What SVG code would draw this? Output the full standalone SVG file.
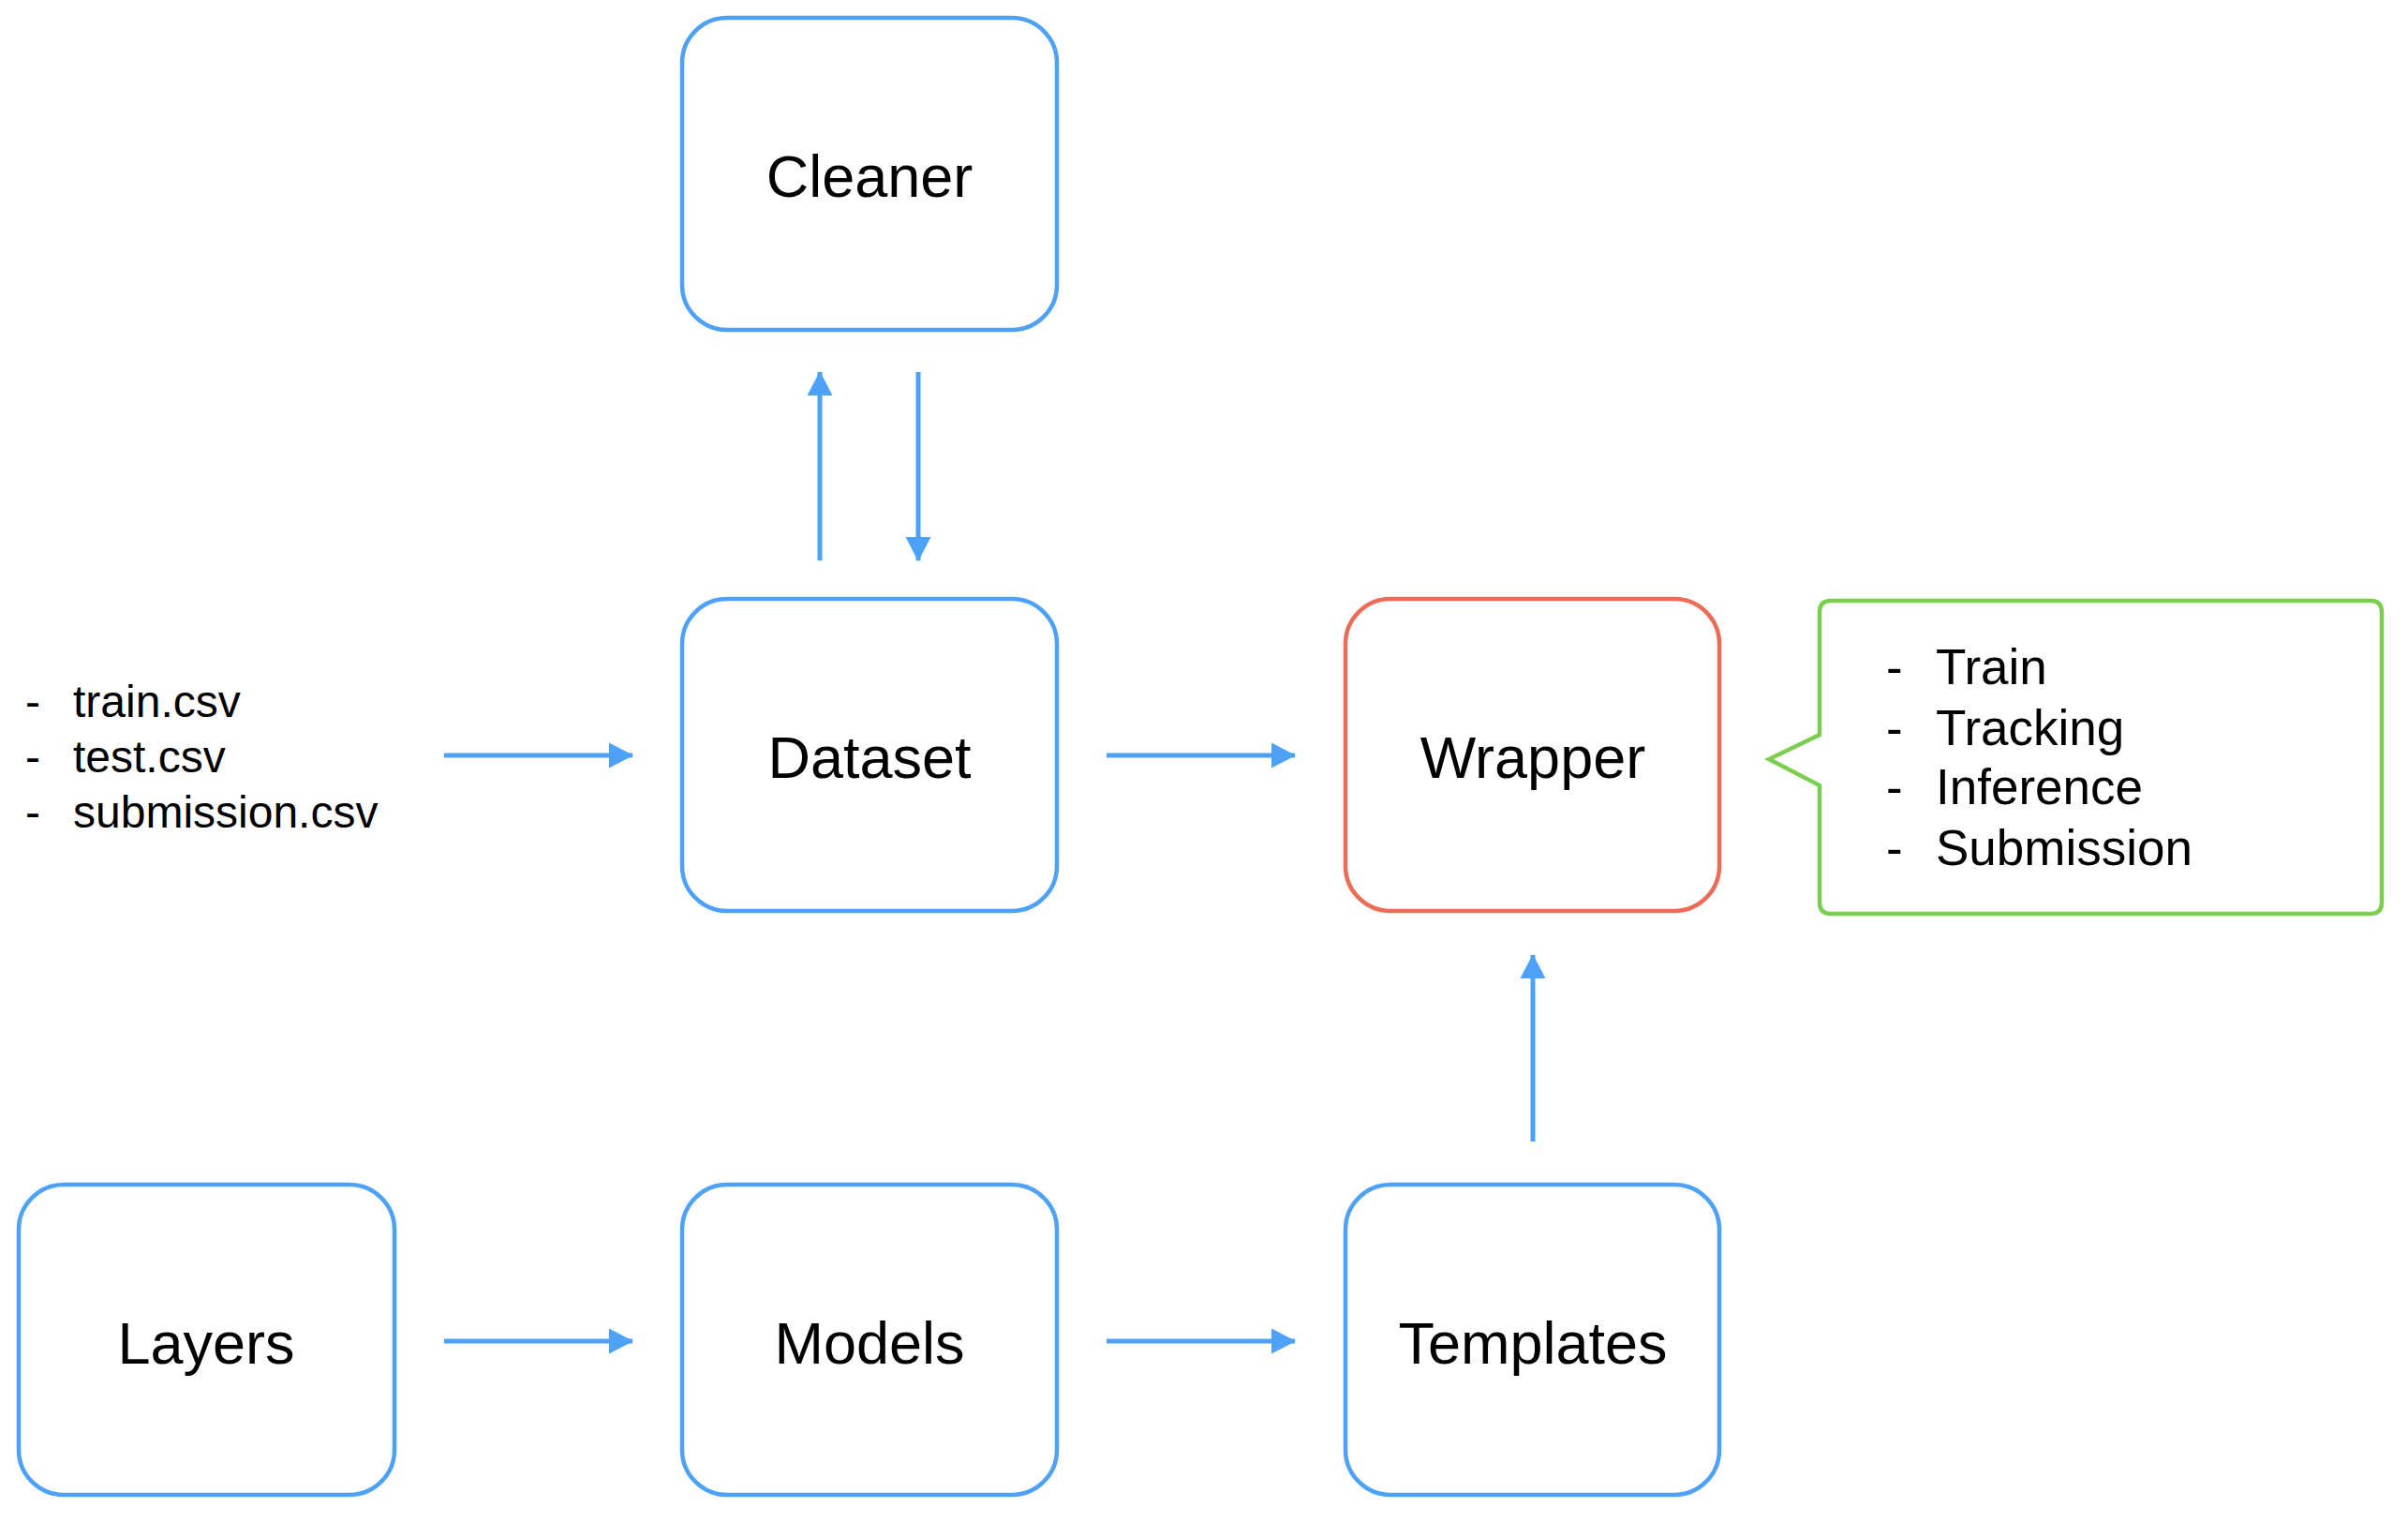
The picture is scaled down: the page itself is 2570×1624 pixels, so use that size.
<svg xmlns="http://www.w3.org/2000/svg" width="2570" height="1624" viewBox="0 0 2570 1624">
<defs>
<style>
.box{fill:#fff;stroke:#4DA2F7;stroke-width:4.5}
.red{stroke:#EC6C57}
.lbl{font-family:"Liberation Sans",Arial,sans-serif;font-size:63px;fill:#000;text-anchor:middle}
.lst{font-family:"Liberation Sans",Arial,sans-serif;font-size:48px;fill:#000}
.lst2{font-family:"Liberation Sans",Arial,sans-serif;font-size:53px;fill:#000}
.conn{stroke:#4DA2F7;stroke-width:5;fill:none;marker-end:url(#ah)}
</style>
<marker id="ah" viewBox="0 0 26 27" refX="25" refY="13.5" markerWidth="26" markerHeight="27" markerUnits="userSpaceOnUse" orient="auto">
<path d="M0,0 L26,13.5 L0,27 Z" fill="#4DA2F7"/>
</marker>
</defs>
<rect width="2570" height="1624" fill="#fff"/>
<g id="connectors">
<line class="conn" x1="875" y1="598" x2="875" y2="397"/>
<line class="conn" x1="980" y1="397" x2="980" y2="598"/>
<line class="conn" x1="474" y1="806" x2="675" y2="806"/>
<line class="conn" x1="1181" y1="806" x2="1382" y2="806"/>
<line class="conn" x1="474" y1="1431" x2="675" y2="1431"/>
<line class="conn" x1="1181" y1="1431" x2="1382" y2="1431"/>
<line class="conn" x1="1636" y1="1218" x2="1636" y2="1019"/>
</g>
<g id="cleaner">
<rect class="box" x="728" y="19" width="400" height="333" rx="48"/>
<text class="lbl" x="928" y="210">Cleaner</text>
</g>
<g id="dataset">
<rect class="box" x="728" y="639" width="400" height="333" rx="48"/>
<text class="lbl" x="928" y="830">Dataset</text>
</g>
<g id="wrapper">
<rect class="box red" x="1436" y="639" width="399" height="333" rx="48"/>
<text class="lbl" x="1636" y="830">Wrapper</text>
</g>
<g id="layers">
<rect class="box" x="20" y="1264" width="401" height="331" rx="48"/>
<text class="lbl" x="220" y="1455">Layers</text>
</g>
<g id="models">
<rect class="box" x="728" y="1264" width="400" height="331" rx="48"/>
<text class="lbl" x="928" y="1455">Models</text>
</g>
<g id="templates">
<rect class="box" x="1436" y="1264" width="399" height="331" rx="48"/>
<text class="lbl" x="1636" y="1455">Templates</text>
</g>
<g id="files">
<text class="lst" x="27" y="765">-</text><text class="lst" x="78" y="765">train.csv</text>
<text class="lst" x="27" y="824">-</text><text class="lst" x="78" y="824">test.csv</text>
<text class="lst" x="27" y="883">-</text><text class="lst" x="78" y="883">submission.csv</text>
</g>
<g id="callout">
<path d="M1954,641 H2530 Q2542,641 2542,653 V963 Q2542,975 2530,975 H1954 Q1942,975 1942,963 V838 L1888,810 L1942,784 V653 Q1942,641 1954,641 Z" fill="#fff" stroke="#7ACF4E" stroke-width="4.5" stroke-linejoin="miter"/>
<text class="lst2" x="2013" y="730">-</text><text class="lst2" x="2066" y="730">Train</text>
<text class="lst2" x="2013" y="795">-</text><text class="lst2" x="2066" y="795">Tracking</text>
<text class="lst2" x="2013" y="858">-</text><text class="lst2" x="2066" y="858">Inference</text>
<text class="lst2" x="2013" y="923">-</text><text class="lst2" x="2066" y="923">Submission</text>
</g>
</svg>
